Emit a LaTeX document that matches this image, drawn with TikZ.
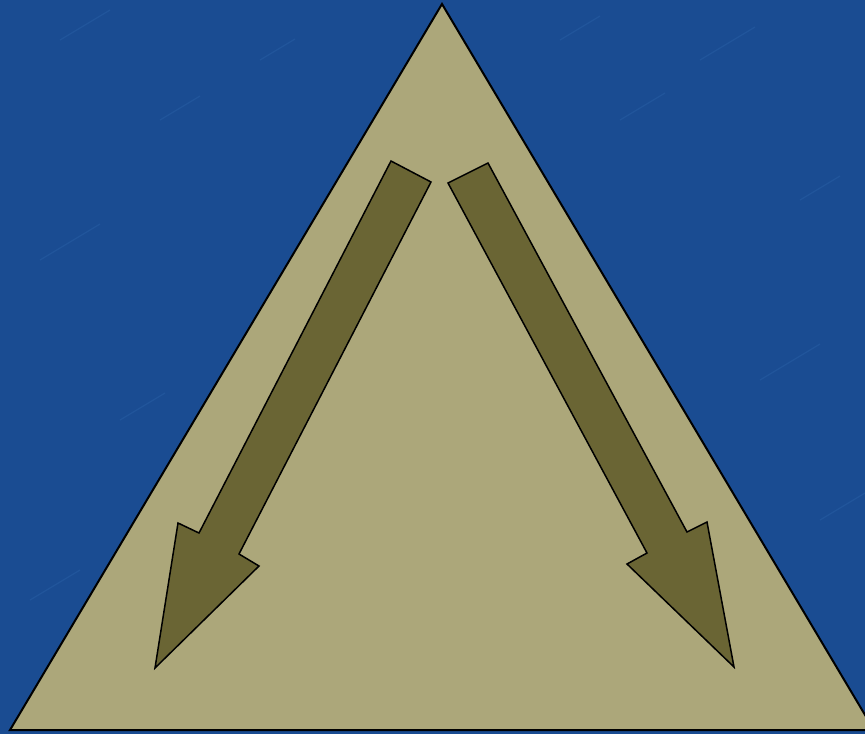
\documentclass[tikz,border=0pt]{standalone}
\definecolor{bgblue}{RGB}{26,76,146}
\definecolor{bgblue2}{RGB}{40,95,165}
\definecolor{tri}{RGB}{172,167,122}
\definecolor{arr}{RGB}{106,101,52}
\begin{document}
\begin{tikzpicture}[x=1pt,y=-1pt,
  trishape/.style={fill=tri,draw=black,line width=2pt,line join=miter},
  arrshape/.style={fill=arr,draw=black,line width=1.5pt,line join=miter}]
\useasboundingbox (0,0) rectangle (865,734);
\fill[bgblue] (0,0) rectangle (865,734);
\begin{scope}
\clip (0,0) rectangle (865,734);
\foreach \x/\y/\l in {60/40/50,160/120/40,40/260/60,120/420/45,30/600/50,700/60/55,800/200/40,620/120/45,760/380/60,820/520/45,260/60/35,560/40/40}
  \draw[bgblue2,line width=1.2pt,opacity=0.5] (\x,\y) -- ++(\l,-0.6*\l);
\draw[trishape] (442,4) -- (874,730) -- (10,730) -- cycle;
\end{scope}
% left arrow
\draw[arrshape] (391,161) -- (431,182) -- (239,554) -- (259,566) -- (155,668)
  -- (178,523) -- (199,533) -- cycle;
% right arrow
\draw[arrshape] (488,163) -- (448,183) -- (647,553) -- (627,564) -- (734,667)
  -- (707,522) -- (687,532) -- cycle;
\end{tikzpicture}
\end{document}
